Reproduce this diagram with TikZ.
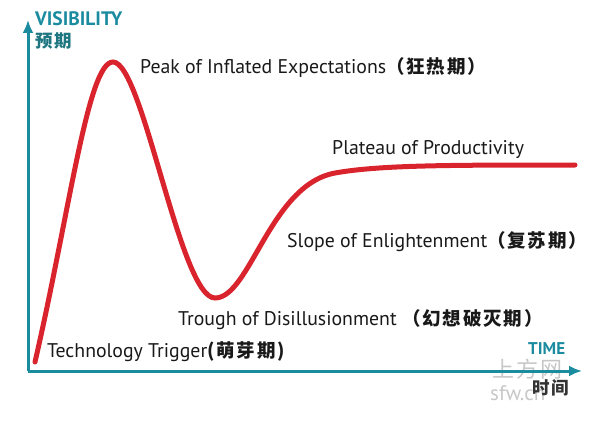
\documentclass[tikz,border=0pt]{standalone}
\usepackage{fontspec}
\setmainfont{PT Sans}
\newfontfamily\cjk{Noto Sans CJK SC}[LetterSpace=10]
\usetikzlibrary{arrows.meta}

\definecolor{axisteal}{RGB}{27,139,160}
\definecolor{labelteal}{RGB}{29,118,128}
\definecolor{curvered}{RGB}{217,36,46}
\newcommand\zh[1]{{\cjk\bfseries\fontsize{18.5}{20}\selectfont #1}}

\tikzset{
  axis/.style={line width=3pt, draw=axisteal, -{Latex[length=13pt,width=11pt]}},
  hype/.style={line width=5pt, draw=curvered, line cap=round},
  phase/.style={anchor=west, inner sep=0pt, text=black!90, font=\fontsize{19.8}{22}\selectfont},
  axlabel/.style={anchor=west, inner sep=0pt, text=axisteal, font=\bfseries\fontsize{17}{20}\selectfont},
  axcn/.style={anchor=west, inner sep=0pt, text=labelteal, font=\cjk\bfseries\fontsize{17.5}{19}\selectfont},
  wmark/.style={anchor=west, inner sep=0pt, text=black!22}
}

\begin{document}
\begin{tikzpicture}[x=1pt, y=-1pt]
\useasboundingbox (0,0) rectangle (593,433);

\coordinate (o) at (28,371);
\coordinate (ytop) at (28,20);
\coordinate (xend) at (582,371);

\node[wmark, font=\cjk\fontsize{22}{24}\selectfont] (wm1) at (492,369) {上方网};
\node[wmark, font=\fontsize{21}{23}\selectfont] (wm2) at (490,393) {sfw.cn};

\draw[axis] (o) -- (ytop);
\draw[axis] (o) -- (xend);

\coordinate (s) at (35,362);
\coordinate (pk) at (113,62);
\coordinate (tr) at (215,298);
\coordinate (kn) at (335,173);
\coordinate (pl) at (575,165);
\draw[hype] (s) .. controls (70,210) and (88,62) .. (pk)
  .. controls (143,62) and (180,298) .. (tr)
  .. controls (250,298) and (270,185) .. (kn)
  .. controls (380,165) and (450,165) .. (pl);

\node[axlabel, font=\bfseries\fontsize{19.5}{21}\selectfont] (vis) at (35,19) {VISIBILITY};
\node[axcn] (viscn) at (35,41) {预期};
\node[axlabel] (time) at (528,349) {TIME};
\node[axcn, text=black!80] (timecn) at (532,388) {时间};

\node[phase] (peak) at (140,67) {Peak of Inflated Expectations\zh{（狂热期）}};
\node[phase] (plateau) at (332,150) {Plateau of Productivity};
\node[phase] (slope) at (287,242) {Slope of Enlightenment\zh{（复苏期）}};
\node[phase] (trough) at (178,320) {Trough of Disillusionment \zh{（幻想破灭期）}};
\node[phase] (trigger) at (47,352) {Technology Trigger\zh{(萌芽期)}};
\end{tikzpicture}
\end{document}
